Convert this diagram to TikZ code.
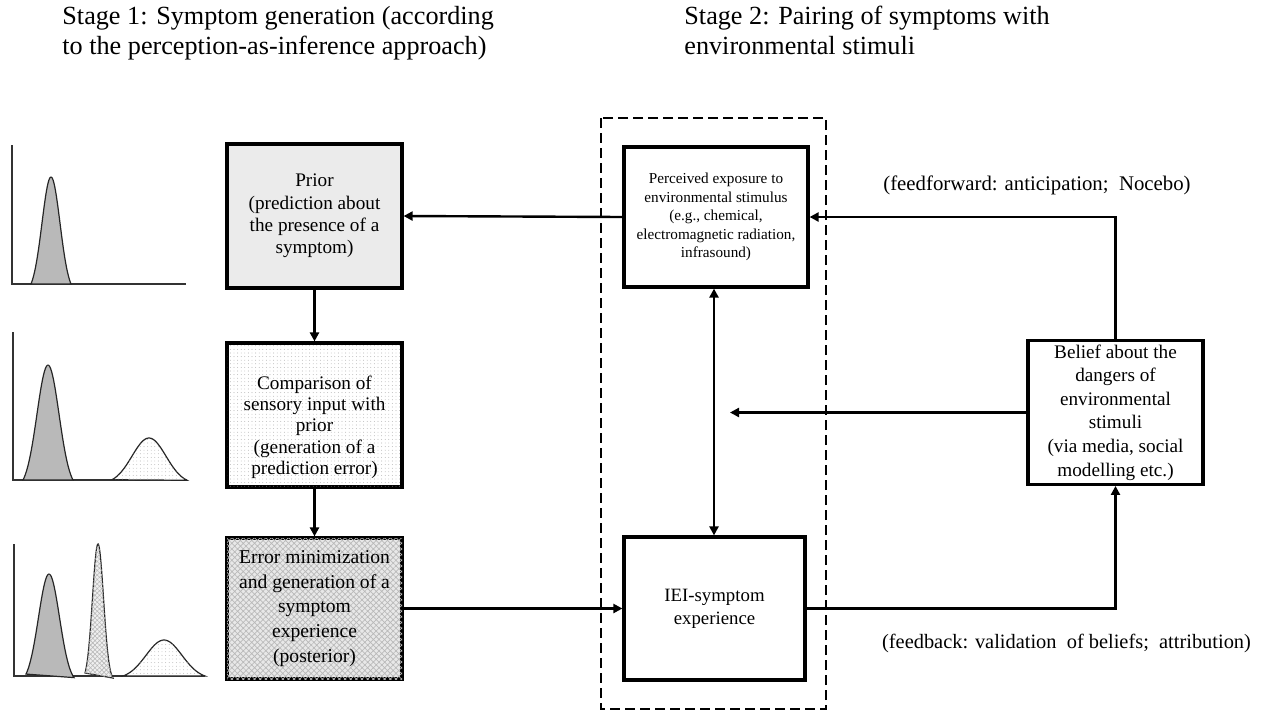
\documentclass[tikz,border=0pt]{standalone}
\usepackage{fontspec}
\setmainfont{Liberation Serif}
\usetikzlibrary{arrows.meta,positioning,patterns.meta}

\begin{document}
\begin{tikzpicture}[
  x=0.5pt, y=-0.5pt,
  box/.style={draw, line width=1.6pt, align=center, inner sep=2pt,
              font=\fontsize{9.6}{11.2}\selectfont},
  prior/.style={box, fill=gray!16, minimum width=87.5pt, minimum height=72pt},
  compare/.style={box, fill=white, minimum width=87.5pt, minimum height=72pt,
                  font=\fontsize{9.6}{10.7}\selectfont,
                  postaction={pattern={Dots[distance=1.8pt, radius=0.22pt]},
                              pattern color=gray!75}},
  post/.style={box, fill=gray!18, minimum width=87.5pt, minimum height=70.5pt,
               font=\fontsize{9.8}{12.3}\selectfont,
               postaction={pattern={Hatch[distance=2pt, angle=45, line width=0.35pt]},
                           pattern color=gray!55}},
  plain/.style={box, fill=white},
  note/.style={font=\fontsize{10.2}{12}\selectfont, inner sep=0pt},
  title/.style={font=\fontsize{13.1}{14.8}\selectfont, align=left, anchor=north west,
                inner sep=0pt},
  ar/.style={-{Triangle[length=4.5pt, width=4.5pt]}, line width=1.2pt},
  dar/.style={{Triangle[length=4.5pt, width=4.5pt]}-{Triangle[length=4.5pt, width=4.5pt]},
              line width=1.2pt},
  axis/.style={line width=0.6pt, gray!40!black},
  dens/.style={line width=0.6pt, draw=gray!30!black, fill=gray!55},
  dotd/.style={line width=0.6pt, draw=gray!30!black, fill=white,
               postaction={pattern={Dots[distance=1.8pt, radius=0.22pt]},
                           pattern color=gray!70}},
  hatd/.style={line width=0.6pt, draw=gray!30!black, fill=gray!12,
               postaction={pattern={Hatch[distance=1.6pt, angle=45, line width=0.3pt]},
                           pattern color=gray!55}}
]
\useasboundingbox (0,0) rectangle (1264,713);

% headings
\node[title] (stage1) at (62,6)
  {Stage 1: Symptom generation (according\\to the perception-as-inference approach)};
\node[title] (stage2) at (684,6)
  {Stage 2: Pairing of symptoms with\\environmental stimuli};

% stage 1 boxes
\node[prior] (prior) at (314.5,216)
  {Prior\\(prediction about\\the presence of a\\symptom)};
\node[compare] (compare) at (314.5,415)
  {\rule{0pt}{19pt}Comparison of\\sensory input with\\prior\\(generation of a\\prediction error)};
\node[post] (error) at (314.5,608.5)
  {Error minimization\\and generation of a\\symptom\\experience\\(posterior)};

% stage 2 boxes
\draw[line width=1.2pt, dash pattern=on 5pt off 2.5pt] (601,118) rectangle (826,709);
\node[plain, minimum width=92pt, minimum height=70pt,
      font=\fontsize{7.6}{9.2}\selectfont] (exposure) at (716,217)
  {Perceived exposure to\\environmental stimulus\\(e.g., chemical,\\electromagnetic radiation,\\infrasound)};
\node[plain, minimum width=90.5pt, minimum height=71.5pt,
      font=\fontsize{9.4}{11.6}\selectfont] (iei) at (714.5,608.5)
  {IEI-symptom\\experience};
\node[plain, minimum width=87.5pt, minimum height=70.5pt,
      font=\fontsize{9.6}{11.8}\selectfont] (belief) at (1115.5,412.5)
  {Belief about the\\dangers of\\environmental\\stimuli\\(via media, social\\modelling etc.)};
\coordinate (mid) at (730,412.5);

\node[note, font=\fontsize{10.4}{12}\selectfont] (ffwd) at (1037,185)
  {(feedforward: anticipation;\ \ Nocebo)};
\node[note] (fback) at (1066.5,643)
  {(feedback: validation\ \ of beliefs;\ \ attribution)};

% connectors
\draw[ar] (prior) -- (compare);
\draw[ar] (compare) -- (error);
\draw[ar] (exposure.west) -- (prior.east);
\draw[ar] (error.east) -- (iei.west);
\draw[dar] ([xshift=-1pt]exposure.south) -- ([xshift=-1pt]exposure.south |- iei.north);
\draw[ar] (belief.west) -- (mid);
\draw[ar] (belief.north) |- (exposure.east);
\draw[ar] (iei.east) -| (belief.south);

% densities, top
\draw[axis] (12,145) -- (12,284) -- (186,284);
\filldraw[dens] plot[domain=31:71, samples=50]
  (\x, {284 - 107*(exp(-((\x-51)^2)/(2*9^2)) - exp(-(20^2)/(2*9^2)))/(1-exp(-(20^2)/(2*9^2)))}) -- cycle;

% densities, middle
\draw[axis] (13,332) -- (13,480) -- (187,480);
\filldraw[dens] plot[domain=23:73, samples=50]
  (\x, {480 - 115*(exp(-((\x-48)^2)/(2*11^2)) - exp(-(25^2)/(2*11^2)))/(1-exp(-(25^2)/(2*11^2)))}) -- cycle;
\filldraw[dotd] plot[domain=112:187, samples=50]
  (\x, {480 - 42*(exp(-((\x-149)^2)/(2*17^2)) - exp(-(37.5^2)/(2*17^2)))/(1-exp(-(37.5^2)/(2*17^2)))}) -- cycle;

% densities, bottom
\draw[axis] (14,544) -- (14,676) -- (205,676);
\filldraw[dens] plot[domain=26:74, samples=50]
  (\x, {676 - 102*(exp(-((\x-49)^2)/(2*10.5^2)) - exp(-(24^2)/(2*10.5^2)))/(1-exp(-(24^2)/(2*10.5^2)))}) -- cycle;
\filldraw[hatd] plot[domain=85:113, samples=50]
  (\x, {676 - 132*(exp(-((\x-98)^2)/(2*5.5^2)) - exp(-(14^2)/(2*5.5^2)))/(1-exp(-(14^2)/(2*5.5^2)))}) -- cycle;
\filldraw[dotd] plot[domain=123:205, samples=50]
  (\x, {676 - 36*(exp(-((\x-164)^2)/(2*18^2)) - exp(-(41^2)/(2*18^2)))/(1-exp(-(41^2)/(2*18^2)))}) -- cycle;

\end{tikzpicture}
\end{document}
